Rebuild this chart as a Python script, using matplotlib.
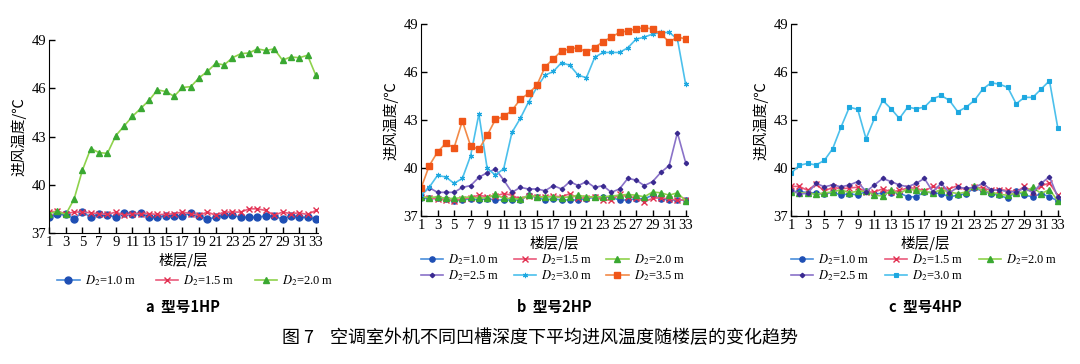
import matplotlib
matplotlib.use("Agg")
import matplotlib.pyplot as plt
import numpy as np

floors = list(range(1, 34))

# Panel a (1HP)
a_d10 = [38.0, 38.16, 38.2, 37.87, 38.28, 38.0, 38.16, 38.1, 38.0, 38.25, 38.2, 38.23, 37.97, 38.0, 38.07, 38.07, 38.07,
         38.25, 38.05, 37.87, 37.97, 38.1, 38.1, 37.97, 37.97, 37.97, 38.07, 38.03, 37.87, 38.07, 37.97, 37.97, 37.87]
a_d15 = [38.3, 38.35, 38.2, 38.3, 38.3, 38.25, 38.2, 38.15, 38.3, 38.1, 38.2, 38.2, 38.2, 38.15, 38.15, 38.2, 38.3,
         38.2, 38.1, 38.3, 38.1, 38.3, 38.3, 38.3, 38.5, 38.5, 38.4, 38.1, 38.3, 38.2, 38.25, 38.15, 38.4]
a_d20 = [38.2, 38.35, 38.15, 39.1, 40.9, 42.25, 42.0, 41.95, 43.05, 43.65, 44.25, 44.75, 45.25, 45.9, 45.8, 45.5, 46.05,
         46.1, 46.65, 47.05, 47.55, 47.45, 47.9, 48.15, 48.2, 48.45, 48.35, 48.45, 47.75, 47.95, 47.9, 48.05, 46.8]

# Panel b (2HP)
b_d10 = [38.1, 38.1, 38.1, 38.05, 37.95, 38.0, 38.08, 38.0, 38.08, 38.0, 38.0, 38.0, 38.0, 38.3, 38.17, 38.0, 38.08,
         38.0, 38.0, 38.0, 38.08, 38.17, 38.17, 38.17, 38.0, 38.0, 38.08, 38.08, 38.3, 38.08, 38.0, 38.0, 38.0]
b_d15 = [38.2, 38.15, 38.05, 38.0, 37.95, 38.05, 38.15, 38.3, 38.2, 38.25, 38.4, 38.3, 38.05, 38.25, 38.2, 38.2, 38.25,
         38.2, 38.4, 38.1, 38.15, 38.2, 38.0, 38.0, 38.35, 38.2, 38.15, 37.9, 38.1, 38.15, 38.05, 38.0, 38.0]
b_d20 = [38.2, 38.15, 38.2, 38.1, 38.1, 38.15, 38.2, 38.1, 38.15, 38.35, 38.1, 38.1, 38.05, 38.3, 38.2, 38.2, 38.2,
         38.15, 38.2, 38.3, 38.2, 38.2, 38.2, 38.25, 38.3, 38.35, 38.3, 38.2, 38.5, 38.45, 38.3, 38.45, 37.95]
b_d25 = [38.31, 38.77, 38.48, 38.48, 38.48, 38.79, 38.9, 39.42, 39.71, 39.94, 39.25, 38.48, 38.79, 38.69, 38.69, 38.58,
         38.9, 38.69, 39.15, 38.9, 39.15, 38.79, 38.9, 38.48, 38.69, 39.35, 39.25, 38.9, 39.15, 39.73, 40.15, 42.21, 40.33]
b_d30 = [38.3, 38.8, 39.54, 39.44, 39.04, 39.35, 40.77, 43.38, 39.98, 39.56, 39.96, 42.23, 43.1, 44.13, 45.04, 45.81,
         46.04, 46.6, 46.42, 45.81, 45.65, 46.92, 47.23, 47.23, 47.23, 47.52, 48.06, 48.19, 48.38, 48.48, 48.48, 48.08, 45.23]
b_d35 = [38.73, 40.15, 41.0, 41.55, 41.27, 42.94, 41.38, 41.17, 42.04, 43.04, 43.23, 43.6, 44.3, 44.67, 45.17, 46.33,
         46.83, 47.33, 47.44, 47.54, 47.23, 47.54, 47.9, 48.19, 48.48, 48.58, 48.69, 48.79, 48.69, 48.4, 47.88, 48.19, 48.08]

# Panel c (4HP)
c_d10 = [38.5, 38.55, 38.45, 38.45, 38.35, 38.5, 38.3, 38.4, 38.3, 38.55, 38.35, 38.45, 38.45, 38.45, 38.2, 38.2, 38.5,
         38.45, 38.4, 38.2, 38.3, 38.4, 38.75, 38.55, 38.4, 38.3, 38.1, 38.55, 38.3, 38.2, 38.4, 38.2, 37.95]
c_d15 = [38.85, 38.85, 38.6, 39.0, 38.55, 38.8, 38.7, 38.75, 38.8, 38.5, 38.5, 38.7, 38.5, 38.6, 38.75, 38.75, 38.55,
         38.85, 38.7, 38.7, 38.9, 38.6, 38.8, 38.75, 38.6, 38.65, 38.6, 38.5, 38.85, 38.5, 38.9, 39.05, 38.3]
c_d20 = [38.5, 38.45, 38.45, 38.35, 38.45, 38.5, 38.65, 38.45, 38.55, 38.55, 38.3, 38.25, 38.6, 38.4, 38.7, 38.6, 38.55,
         38.45, 38.65, 38.5, 38.4, 38.5, 38.9, 38.55, 38.5, 38.35, 38.3, 38.45, 38.5, 38.8, 38.4, 38.65, 37.95]
c_d25 = [38.65, 38.38, 38.42, 39.04, 38.83, 38.94, 38.83, 38.94, 39.15, 38.52, 38.94, 39.35, 39.15, 38.94, 38.83, 39.04,
         39.35, 38.52, 39.04, 38.46, 38.79, 38.73, 38.79, 39.04, 38.63, 38.63, 38.52, 38.52, 38.73, 38.46, 39.04, 39.46, 38.17]
c_d30 = [39.67, 40.17, 40.29, 40.19, 40.48, 41.21, 42.56, 43.81, 43.67, 41.83, 43.1, 44.23, 43.71, 43.1, 43.81, 43.71,
         43.81, 44.33, 44.54, 44.23, 43.52, 43.81, 44.23, 44.94, 45.33, 45.25, 45.04, 44.02, 44.42, 44.42, 44.94, 45.46, 42.5]

yticks = [37, 40, 43, 46, 49]
xticks = list(range(1, 34, 2))

CJK = ['Noto Sans CJK SC', 'DejaVu Sans']
SERIF = ['Liberation Serif', 'DejaVu Serif']
plt.rcParams['mathtext.fontset'] = 'stix'

styles = {
    '1.0': dict(color='#4a8fdc', marker='o', mfc='#1f4fb4', mec='#1f4fb4', ms=5.0),
    '1.5': dict(color='#ea5a7c', marker='x', mfc='#e23050', mec='#e23050', ms=5.0, mew=1.0),
    '2.0': dict(color='#8fd24c', marker='^', mfc='#3aa832', mec='#3aa832', ms=5.0),
    '2.5': dict(color='#8a72c8', marker='D', mfc='#3a2a90', mec='#3a2a90', ms=3.0),
    '3.0': dict(color='#4cc0ec', marker=(6, 2, 0), mfc='#1ea8e0', mec='#1ea8e0', ms=5, mew=0.8),
    '3.5': dict(color='#f28a48', marker='s', mfc='#f05518', mec='#f05518', ms=4.5),
}

fig = plt.figure(figsize=(10.8, 3.64), dpi=100)

panels = [
    dict(rect=[0.0454, 0.360, 0.249, 0.530], series=[('1.0', a_d10), ('1.5', a_d15), ('2.0', a_d20)],
         cap='a  型号1HP', ms_scale=1.0, legy=-0.21, colsp=1.6, legx=0.03),
    dict(rect=[0.3898, 0.4066, 0.247, 0.527],
         series=[('1.0', b_d10), ('1.5', b_d15), ('2.0', b_d20), ('2.5', b_d25), ('3.0', b_d30), ('3.5', b_d35)],
         cap='b  型号2HP', ms_scale=0.75, legy=-0.19, colsp=1.1, legx=0.0),
    dict(rect=[0.7324, 0.4066, 0.249, 0.527],
         series=[('1.0', c_d10), ('1.5', c_d15), ('2.0', c_d20), ('2.5', c_d25), ('3.0', c_d30)],
         cap='c  型号4HP', ms_scale=0.75, legy=-0.19, colsp=1.2, legx=0.0),
]

for i, p in enumerate(panels):
    ax = fig.add_axes(p['rect'])
    handles = []
    for key, vals in p['series']:
        st = dict(styles[key])
        if i == 2 and key == '3.0':
            st['marker'] = 's'
            st['ms'] = 4.5
        st['ms'] = st['ms'] * (p['ms_scale'] if not (i == 1 and key == '3.5') else 1.0)
        h, = ax.plot(floors, vals, lw=1.2, label=r'$D_2$=' + key + ' m', **st)
        handles.append(h)
    ax.set_xlim(1, 33.25)
    ax.set_ylim(37, 49)
    ax.set_xticks(xticks)
    ax.set_yticks(yticks)
    ax.spines['top'].set_visible(False)
    ax.spines['right'].set_visible(False)
    ax.tick_params(direction='in', length=4, width=1, labelsize=10.5, pad=2)
    for lab in ax.get_xticklabels() + ax.get_yticklabels():
        lab.set_family(SERIF)
    ax.set_ylabel('进风温度/℃', family=CJK, fontsize=10.5, labelpad=4)
    ax.set_xlabel('楼层/层', family=CJK, fontsize=10.5, labelpad=3)
    # row-wise ordering for a 3-column legend
    n = len(handles)
    ncol = 3
    nrow = (n + ncol - 1) // ncol
    order = []
    for c in range(ncol):
        for r in range(nrow):
            k = r * ncol + c
            if k < n:
                order.append(k)
    ax.legend([handles[k] for k in order], [handles[k].get_label() for k in order],
              loc='upper left', bbox_to_anchor=(p['legx'], p['legy']), ncol=ncol, frameon=False,
              prop=dict(family=SERIF, size=9), handlelength=1.8, columnspacing=p['colsp'],
              handletextpad=0.4, labelspacing=0.1, borderpad=0, borderaxespad=0)
    x0 = p['rect'][0] + p['rect'][2] / 2
    fig.text(x0, 1 - 307 / 364, p['cap'], ha='center', va='center', family=CJK, fontsize=10.5, weight='bold')

fig.text(0.5, 1 - 338 / 364, '图 7    空调室外机不同凹槽深度下平均进风温度随楼层的变化趋势',
         ha='center', va='center', family=CJK, fontsize=13)

fig.savefig('out.png', dpi=100)
